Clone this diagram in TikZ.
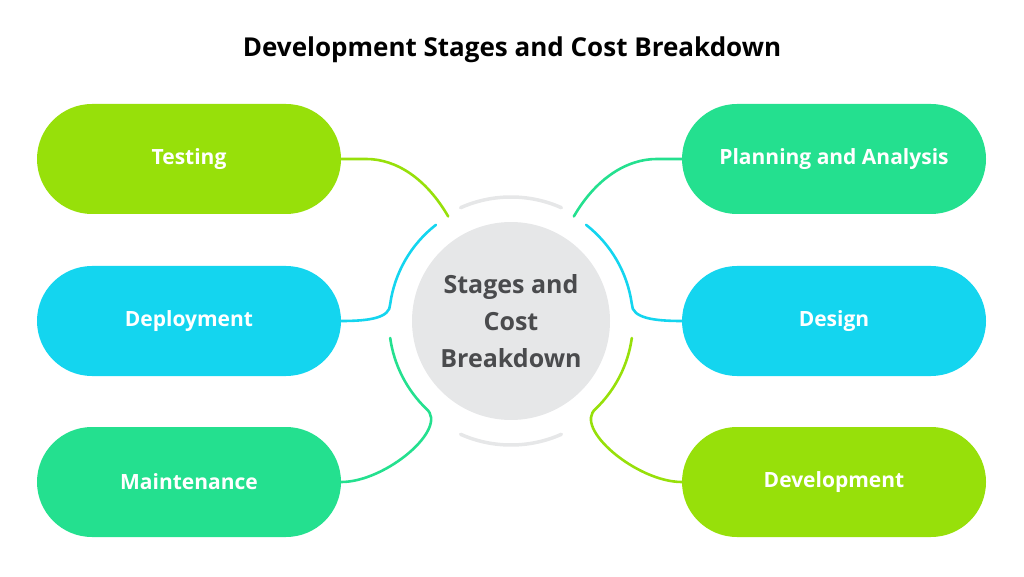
\documentclass[tikz,border=0pt]{standalone}
\usepackage{fontspec}
\setmainfont{Open Sans}
\usetikzlibrary{positioning}
\definecolor{lime}{HTML}{97E00A}
\definecolor{aqua}{HTML}{14D5EF}
\definecolor{mint}{HTML}{24E08F}
\definecolor{hub}{HTML}{E6E7E8}
\definecolor{hubtext}{HTML}{4A4B4D}
\tikzset{
  pill/.style={draw=none, rounded corners=55pt, minimum width=304pt, minimum height=110pt,
    text=white, font=\bfseries\fontsize{21}{24}\selectfont},
  link/.style={line width=2.6pt, line cap=round},
  ring/.style={line width=3.5pt, hub, line cap=round},
}
\begin{document}
\begin{tikzpicture}[x=1pt,y=1pt]
	\useasboundingbox (0,0) rectangle (1024,576);
	\node[font=\bfseries\fontsize{26}{30}\selectfont] (title) at (512,526) {Development Stages and Cost Breakdown};
	\node[circle, fill=hub, minimum size=198pt, text=hubtext, align=center,
	  font=\bfseries\fontsize{25}{37}\selectfont] (ctr) at (511,255) {Stages and\\Cost\\Breakdown};
	% left column
	\node[pill, fill=lime] (tes) at (189,417) {Testing};
	\node[pill, fill=aqua] (dep) at (189,255) {Deployment};
	\node[pill, fill=mint] (mai) at (189,94) {Maintenance};
	% right column
	\node[pill, fill=mint] (pla) at (834,417) {Planning and Analysis};
	\node[pill, fill=aqua] (des) at (834,255) {Design};
	\node[pill, fill=lime] (dev) at (834,94) {Development};
	% grey ring pieces
	\draw[ring] ([shift={(66:124)}]ctr.center) arc[start angle=66, end angle=114, radius=124];
	\draw[ring] ([shift={(246:124)}]ctr.center) arc[start angle=246, end angle=294, radius=124];
	% ring points
	\coordinate (tesend) at ([shift={(121:122)}]ctr.center);
	\coordinate (plaend) at ([shift={(59:122)}]ctr.center);
	% connectors
	\draw[link, lime] (tes.east) -- ++(25,0) .. controls +(30,0) and +(-22,38) .. (tesend);
	\draw[link, mint] (pla.west) -- ++(-25,0) .. controls +(-30,0) and +(22,38) .. (plaend);
	\draw[link, aqua] ([shift={(128:122)}]ctr.center) arc[start angle=128, end angle=172, radius=122]
	  .. controls +(-90:14) and +(28,0) .. (dep.east);
	\draw[link, aqua] ([shift={(52:122)}]ctr.center) arc[start angle=52, end angle=8, radius=122]
	  .. controls +(-90:14) and +(-28,0) .. (des.west);
	\draw[link, mint] ([shift={(188:122)}]ctr.center) arc[start angle=188, end angle=226, radius=122]
	  .. controls +(-40:30) and +(45,0) .. (mai.east);
	\draw[link, lime] ([shift={(-8:122)}]ctr.center) arc[start angle=-8, end angle=-46, radius=122]
	  .. controls +(220:30) and +(-45,0) .. (dev.west);
\end{tikzpicture}
\end{document}
